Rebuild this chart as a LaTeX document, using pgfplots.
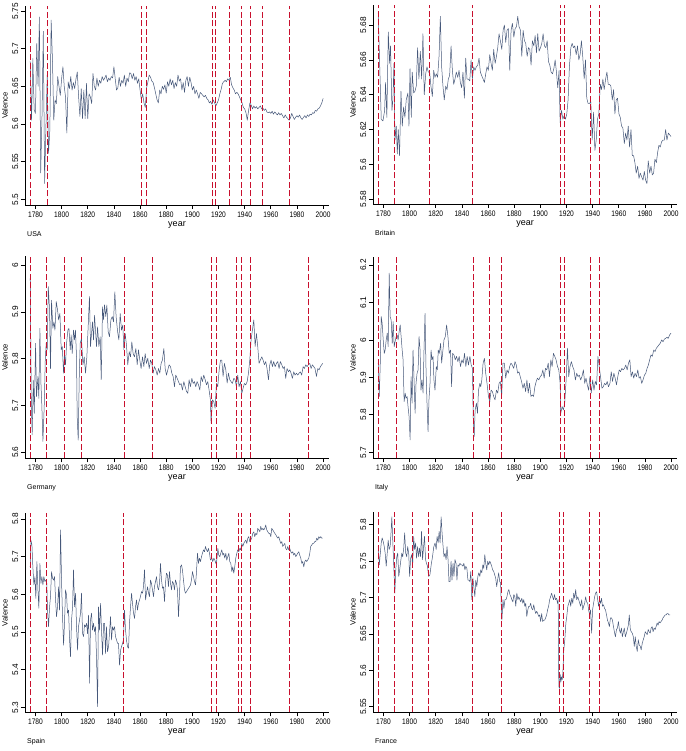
\documentclass[border=0pt]{standalone}
\usepackage{fontspec}
\setmainfont{Liberation Sans}[FakeStretch=0.83]
\newfontfamily\plainsans{Liberation Sans}
\usepackage{pgfplots}
\pgfplotsset{compat=1.18}
\definecolor{serie}{RGB}{70,88,122}
\definecolor{crim}{RGB}{200,16,46}
\pgfplotsset{
  panel/.style={
    scale only axis, width=304pt, xmin=1772, xmax=2004.5,
    axis lines*=left, axis line style={black, line width=0.8pt},
    tick align=outside, major tick length=4pt, tick style={black, line width=0.7pt},
    xtick={1780,1800,...,2000},
    xticklabel style={font=\fontsize{8}{9}\selectfont, /pgf/number format/1000 sep={}, inner sep=2.5pt},
    yticklabel style={font=\plainsans\fontsize{8.3}{9}\selectfont, rotate=90, anchor=south, inner sep=2.5pt},
    xlabel={year}, ylabel={Valence},
    every axis x label/.style={at={(axis description cs:0.5,0)}, anchor=center, yshift=-20pt, font=\plainsans\fontsize{9}{10}\selectfont},
    every axis y label/.style={at={(axis description cs:0,0.5)}, anchor=center, xshift=-20pt, rotate=90, font=\plainsans\fontsize{7.6}{9}\selectfont},
    /pgf/number format/assume math mode=true,
    clip mode=individual,
  },
  series/.style={color=serie, line width=0.5pt, mark=none, line join=round},
  vline/.style={color=crim, line width=0.85pt, dash pattern=on 6pt off 2.5pt, mark=none},
}
\newcommand{\vlines}[3]{\pgfplotsinvokeforeach{#3}{\addplot[vline] coordinates {(##1,#1) (##1,#2)};}}
\newcommand{\country}[1]{\node[anchor=base west, inner sep=0pt, font=\plainsans\fontsize{7}{8}\selectfont, xshift=2pt, yshift=-31.5pt] at (axis description cs:0,0) {#1};}
\begin{document}
\begin{tikzpicture}
\path[use as bounding box] (0,0) rectangle (685pt,751pt);
% ---------------- USA
\begin{axis}[panel, at={(25pt,546pt)}, anchor=south west, height=199pt,
  ymin=5.4925, ymax=5.7566, ytick={5.5,5.55,5.6,5.65,5.7,5.75}]
\addplot[series] coordinates {(1776,5.683)(1777,5.605)(1778,5.687)(1779,5.619)(1780,5.614)(1781,5.707)(1782,5.650)(1783,5.742)(1784,5.535)(1785,5.610)(1786,5.723)(1787,5.521)(1788,5.596)(1789,5.665)(1790,5.561)(1791,5.592)(1792,5.738)(1793,5.685)(1794,5.605)(1795,5.632)(1796,5.627)(1797,5.663)(1798,5.650)(1799,5.638)(1800,5.660)(1801,5.676)(1802,5.650)(1803,5.636)(1804,5.588)(1805,5.656)(1806,5.647)(1807,5.663)(1808,5.645)(1809,5.655)(1810,5.647)(1811,5.660)(1812,5.669)(1813,5.636)(1814,5.610)(1815,5.647)(1816,5.607)(1817,5.645)(1818,5.607)(1819,5.654)(1820,5.607)(1821,5.640)(1822,5.636)(1823,5.627)(1824,5.667)(1825,5.650)(1826,5.645)(1827,5.661)(1828,5.650)(1829,5.658)(1830,5.654)(1831,5.663)(1832,5.658)(1833,5.661)(1834,5.665)(1835,5.656)(1836,5.661)(1837,5.658)(1838,5.663)(1839,5.661)(1840,5.676)(1841,5.660)(1842,5.645)(1843,5.648)(1844,5.662)(1845,5.650)(1846,5.658)(1847,5.654)(1848,5.665)(1849,5.650)(1850,5.661)(1851,5.656)(1852,5.668)(1853,5.667)(1854,5.660)(1855,5.667)(1856,5.658)(1857,5.663)(1858,5.654)(1859,5.660)(1860,5.645)(1861,5.632)(1862,5.640)(1863,5.628)(1864,5.622)(1865,5.648)(1866,5.656)(1867,5.665)(1868,5.662)(1869,5.657)(1870,5.655)(1871,5.648)(1872,5.640)(1873,5.632)(1874,5.628)(1875,5.645)(1876,5.640)(1877,5.650)(1878,5.646)(1879,5.652)(1880,5.641)(1881,5.656)(1882,5.650)(1883,5.660)(1884,5.652)(1885,5.658)(1886,5.647)(1887,5.655)(1888,5.650)(1889,5.665)(1890,5.657)(1891,5.660)(1892,5.645)(1893,5.655)(1894,5.642)(1895,5.658)(1896,5.663)(1897,5.650)(1898,5.662)(1899,5.655)(1900,5.645)(1901,5.650)(1902,5.640)(1903,5.645)(1904,5.640)(1905,5.634)(1906,5.642)(1907,5.640)(1908,5.638)(1909,5.636)(1910,5.638)(1911,5.634)(1912,5.632)(1913,5.628)(1914,5.630)(1915,5.626)(1916,5.632)(1917,5.628)(1918,5.624)(1919,5.628)(1920,5.632)(1921,5.640)(1922,5.646)(1923,5.654)(1924,5.656)(1925,5.658)(1926,5.656)(1927,5.660)(1928,5.658)(1929,5.662)(1930,5.652)(1931,5.648)(1932,5.645)(1933,5.640)(1934,5.642)(1935,5.640)(1936,5.636)(1937,5.632)(1938,5.628)(1939,5.622)(1940,5.620)(1941,5.615)(1942,5.605)(1943,5.618)(1944,5.628)(1945,5.625)(1946,5.620)(1947,5.624)(1948,5.621)(1949,5.623)(1950,5.620)(1951,5.622)(1952,5.624)(1953,5.620)(1954,5.621)(1955,5.618)(1956,5.620)(1957,5.616)(1958,5.615)(1959,5.616)(1960,5.614)(1961,5.617)(1962,5.613)(1963,5.616)(1964,5.614)(1965,5.612)(1966,5.615)(1967,5.612)(1968,5.614)(1969,5.611)(1970,5.608)(1971,5.612)(1972,5.609)(1973,5.607)(1974,5.605)(1975,5.608)(1976,5.614)(1977,5.610)(1978,5.606)(1979,5.609)(1980,5.611)(1981,5.609)(1982,5.612)(1983,5.608)(1984,5.606)(1985,5.609)(1986,5.611)(1987,5.608)(1988,5.612)(1989,5.610)(1990,5.613)(1991,5.612)(1992,5.615)(1993,5.614)(1994,5.618)(1995,5.617)(1996,5.620)(1997,5.621)(1998,5.624)(1999,5.628)(2000,5.634)};
\vlines{5.4925}{5.7566}{1776,1789,1861,1865,1915,1918,1928.3,1937.7,1944.6,1953.3,1974.4}
\country{USA}
\end{axis}
% ---------------- Britain
\begin{axis}[panel, at={(373pt,547pt)}, anchor=south west, height=199pt,
  ymin=5.5773, ymax=5.6915, ytick={5.58,5.6,5.62,5.64,5.66,5.68}]
\addplot[series] coordinates {(1776,5.687)(1777,5.660)(1778.3,5.626)(1779.6,5.625)(1780.9,5.631)(1781.6,5.647)(1782.6,5.627)(1783.7,5.676)(1784.7,5.658)(1785.4,5.668)(1786.5,5.631)(1787.2,5.637)(1788,5.658)(1788.8,5.614)(1789.8,5.622)(1790.6,5.606)(1791.3,5.620)(1792.3,5.605)(1793.4,5.642)(1794.4,5.622)(1795.4,5.633)(1796.4,5.627)(1797.4,5.637)(1798.7,5.641)(1799.5,5.622)(1800.3,5.655)(1801.3,5.627)(1802,5.653)(1803.1,5.641)(1804.1,5.642)(1805.1,5.645)(1806.1,5.667)(1807.1,5.649)(1808.2,5.665)(1809.2,5.649)(1810.2,5.675)(1811.2,5.640)(1812.3,5.652)(1813.3,5.656)(1814.3,5.653)(1815.3,5.653)(1816.3,5.645)(1817.4,5.639)(1818.4,5.654)(1819.4,5.650)(1820.4,5.652)(1821.4,5.650)(1822.5,5.662)(1823.5,5.685)(1824.5,5.656)(1825.5,5.645)(1826.5,5.637)(1827.6,5.645)(1828.6,5.643)(1829.6,5.649)(1830.6,5.651)(1831.7,5.668)(1832.7,5.654)(1833.7,5.646)(1834.7,5.649)(1835.7,5.653)(1836.8,5.650)(1837.8,5.654)(1838.8,5.647)(1839.8,5.644)(1840.8,5.653)(1841.9,5.638)(1842.9,5.661)(1843.9,5.649)(1844.9,5.649)(1846,5.648)(1847,5.660)(1848,5.649)(1849,5.656)(1850,5.654)(1851,5.656)(1852.1,5.657)(1853.1,5.661)(1854.1,5.653)(1855.1,5.651)(1856.2,5.649)(1857.2,5.647)(1858.2,5.652)(1859.2,5.656)(1860.2,5.654)(1861.3,5.663)(1862.3,5.658)(1863.3,5.654)(1864.3,5.666)(1865.4,5.658)(1866.4,5.662)(1867.4,5.667)(1868.4,5.675)(1869.4,5.671)(1870.5,5.666)(1871.5,5.677)(1872.5,5.680)(1873.5,5.670)(1874.5,5.677)(1875.6,5.678)(1876.6,5.654)(1877.6,5.677)(1878.6,5.681)(1879.7,5.673)(1880.7,5.678)(1881.7,5.679)(1882.7,5.685)(1883.7,5.679)(1884.8,5.677)(1885.8,5.662)(1886.8,5.677)(1887.8,5.671)(1888.8,5.6695)(1889.9,5.662)(1890.9,5.667)(1891.9,5.666)(1892.9,5.657)(1893.9,5.671)(1895,5.668)(1896,5.674)(1897,5.664)(1898,5.675)(1899,5.665)(1900.1,5.667)(1901.1,5.6695)(1902.1,5.675)(1903.1,5.668)(1904.2,5.667)(1905.2,5.671)(1906.2,5.659)(1907.2,5.657)(1908.2,5.653)(1909.3,5.652)(1910.3,5.655)(1911.3,5.660)(1912.3,5.653)(1913.3,5.644)(1914.3,5.654)(1915.1,5.624)(1916.2,5.631)(1917.2,5.626)(1918.2,5.628)(1919.2,5.626)(1920.2,5.629)(1921.2,5.637)(1922.2,5.656)(1923.3,5.667)(1924.3,5.6695)(1925.3,5.667)(1926.3,5.668)(1927.4,5.663)(1928.4,5.668)(1929.4,5.660)(1930.4,5.663)(1931.4,5.671)(1932.4,5.662)(1933.5,5.649)(1934.5,5.660)(1935.5,5.638)(1936.5,5.635)(1937.6,5.635)(1938.6,5.636)(1939.6,5.614)(1940.7,5.630)(1941.7,5.608)(1942.7,5.614)(1943.7,5.626)(1944.7,5.629)(1945.8,5.646)(1946.8,5.643)(1947.8,5.649)(1948.8,5.643)(1949.9,5.649)(1950.9,5.653)(1951.9,5.646)(1952.9,5.646)(1953.9,5.645)(1955,5.637)(1956,5.643)(1957,5.629)(1958,5.637)(1959,5.638)(1960.1,5.629)(1961.1,5.627)(1962.1,5.622)(1963.1,5.621)(1964.2,5.612)(1965.2,5.618)(1966.2,5.614)(1967.2,5.622)(1968.2,5.610)(1969.3,5.620)(1970.3,5.605)(1971.3,5.605)(1972.3,5.601)(1973.3,5.595)(1974.4,5.599)(1975.4,5.592)(1976.4,5.595)(1977.4,5.593)(1978.5,5.591)(1979.5,5.596)(1980.5,5.591)(1981.5,5.589)(1982.5,5.602)(1983.6,5.595)(1984.6,5.599)(1985.6,5.594)(1986.6,5.595)(1987.6,5.603)(1988.7,5.601)(1989.7,5.607)(1990.7,5.611)(1991.7,5.610)(1992.7,5.613)(1993.8,5.614)(1994.8,5.614)(1995.8,5.620)(1996.8,5.614)(1997.9,5.618)(1998.9,5.617)(1999.9,5.616)};
\vlines{5.5773}{5.6915}{1776,1788.5,1814.8,1848,1915.1,1918.2,1938.1,1945}
\country{Britain}
\end{axis}
% ---------------- Germany
\begin{axis}[panel, at={(25pt,292.7pt)}, anchor=south west, height=202pt,
  ymin=5.587, ymax=6.019, ytick={5.6,5.7,5.8,5.9,6}]
\addplot[series] coordinates {(1776.0,5.972)(1776.8,5.712)(1777.5,5.637)(1778.3,5.754)(1779.1,5.683)(1780.1,5.833)(1780.8,5.719)(1781.9,5.762)(1782.6,5.715)(1783.4,5.865)(1784.2,5.747)(1784.9,5.698)(1785.7,5.623)(1786.7,5.698)(1787.5,5.797)(1788.2,5.833)(1789.0,5.819)(1789.8,5.954)(1790.8,5.904)(1791.5,5.779)(1792.3,5.925)(1793.3,5.865)(1794.1,5.879)(1794.9,5.861)(1795.9,5.922)(1796.9,5.904)(1797.7,5.883)(1798.7,5.897)(1799.7,5.819)(1800.5,5.826)(1801.5,5.769)(1802.2,5.808)(1803.0,5.787)(1803.8,5.833)(1804.8,5.861)(1805.6,5.865)(1806.6,5.819)(1807.3,5.851)(1808.1,5.811)(1809.1,5.861)(1809.9,5.840)(1810.6,5.861)(1811.4,5.804)(1811.9,5.676)(1812.7,5.626)(1813.5,5.762)(1814.2,5.833)(1815.2,5.843)(1816.3,5.787)(1817.3,5.804)(1818.3,5.769)(1819.3,5.804)(1820.3,5.868)(1821.3,5.933)(1822.1,5.826)(1822.9,5.854)(1823.6,5.879)(1824.4,5.840)(1825.2,5.893)(1825.9,5.861)(1826.7,5.826)(1827.5,5.868)(1828.5,5.826)(1829.5,5.847)(1830.3,5.755)(1831.3,5.911)(1832.1,5.883)(1832.8,5.915)(1833.8,5.890)(1834.6,5.915)(1835.6,5.858)(1836.6,5.847)(1837.7,5.883)(1838.7,5.890)(1839.7,5.879)(1840.7,5.943)(1841.7,5.890)(1842.8,5.858)(1843.8,5.840)(1844.8,5.897)(1845.8,5.861)(1846.8,5.872)(1847.6,5.819)(1848.6,5.854)(1849.6,5.829)(1850.6,5.787)(1851.7,5.815)(1852.7,5.804)(1853.7,5.836)(1854.7,5.811)(1855.7,5.804)(1856.8,5.822)(1857.8,5.787)(1858.8,5.819)(1859.8,5.797)(1860.8,5.779)(1861.9,5.804)(1862.9,5.783)(1863.9,5.811)(1864.9,5.790)(1865.9,5.801)(1867.0,5.779)(1868.0,5.797)(1869.0,5.790)(1870.0,5.769)(1871.0,5.783)(1872.1,5.776)(1873.1,5.765)(1874.1,5.779)(1875.1,5.769)(1876.1,5.790)(1877.1,5.797)(1878.2,5.822)(1879.2,5.779)(1880.2,5.765)(1881.2,5.776)(1882.2,5.787)(1883.3,5.783)(1884.3,5.769)(1885.3,5.762)(1886.3,5.740)(1887.3,5.765)(1888.4,5.758)(1889.4,5.751)(1890.4,5.744)(1891.4,5.747)(1892.4,5.733)(1893.5,5.751)(1894.5,5.740)(1895.5,5.730)(1896.5,5.726)(1897.5,5.755)(1898.5,5.740)(1899.6,5.758)(1900.6,5.747)(1901.6,5.751)(1902.6,5.740)(1903.6,5.751)(1904.7,5.744)(1905.7,5.733)(1906.7,5.762)(1907.7,5.751)(1908.7,5.765)(1909.8,5.755)(1910.8,5.744)(1911.8,5.751)(1912.8,5.733)(1913.8,5.712)(1914.3,5.662)(1915.4,5.712)(1916.4,5.708)(1917.4,5.694)(1918.4,5.747)(1919.4,5.740)(1920.5,5.776)(1921.5,5.797)(1922.5,5.797)(1923.5,5.762)(1924.5,5.790)(1925.6,5.776)(1926.6,5.748)(1927.6,5.769)(1928.6,5.755)(1929.6,5.751)(1930.6,5.747)(1931.7,5.758)(1932.7,5.755)(1933.7,5.740)(1934.7,5.765)(1935.7,5.740)(1936.8,5.751)(1937.8,5.726)(1938.8,5.737)(1939.8,5.747)(1940.8,5.744)(1941.9,5.751)(1942.9,5.769)(1943.9,5.797)(1944.9,5.840)(1945.9,5.861)(1947.0,5.883)(1948.0,5.826)(1949.0,5.854)(1950.0,5.826)(1951.0,5.790)(1952.0,5.797)(1953.1,5.804)(1954.1,5.797)(1955.1,5.787)(1956.1,5.794)(1957.1,5.779)(1958.2,5.755)(1959.2,5.787)(1960.2,5.797)(1961.2,5.783)(1962.2,5.794)(1963.3,5.783)(1964.3,5.790)(1965.3,5.794)(1966.3,5.779)(1967.3,5.794)(1968.4,5.787)(1969.4,5.779)(1970.4,5.783)(1971.4,5.758)(1972.4,5.779)(1973.5,5.772)(1974.5,5.776)(1975.5,5.769)(1976.5,5.758)(1977.5,5.772)(1978.5,5.765)(1979.6,5.769)(1980.6,5.765)(1981.6,5.769)(1982.6,5.772)(1983.6,5.765)(1984.7,5.783)(1985.7,5.779)(1986.7,5.787)(1987.7,5.783)(1988.7,5.787)(1989.8,5.790)(1990.8,5.779)(1991.8,5.787)(1992.8,5.783)(1993.8,5.779)(1994.9,5.762)(1995.9,5.779)(1996.9,5.776)(1997.9,5.783)(1998.9,5.787)(1999.7,5.790)};
\vlines{5.587}{6.019}{1776,1788.7,1802.5,1815,1847.8,1869.8,1914.9,1918.2,1934,1937.8,1944.7,1989}
\country{Germany}
\end{axis}
% ---------------- Italy
\begin{axis}[panel, at={(373pt,292.7pt)}, anchor=south west, height=201pt,
  ymin=5.684, ymax=6.2205, ytick={5.7,5.8,5.9,6,6.1,6.2}]
\addplot[series] coordinates {(1776.0,5.938)(1776.8,5.849)(1777.5,5.929)(1778.3,6.062)(1779.0,6.044)(1779.8,6.000)(1780.6,5.964)(1781.3,5.973)(1782.1,6.000)(1782.9,6.018)(1783.6,5.982)(1784.4,6.178)(1785.1,6.062)(1785.9,6.053)(1786.7,5.991)(1787.4,6.049)(1788.2,5.982)(1788.9,5.995)(1789.7,6.009)(1790.5,6.013)(1791.2,6.000)(1792.0,6.022)(1792.8,6.040)(1793.5,6.009)(1794.3,5.973)(1795.0,5.947)(1795.8,5.835)(1796.6,5.858)(1797.3,5.844)(1798.1,5.849)(1798.8,5.822)(1799.6,5.795)(1800.4,5.733)(1801.1,5.902)(1801.9,5.831)(1802.6,5.973)(1803.4,5.893)(1804.2,5.804)(1804.9,5.884)(1805.7,5.911)(1806.5,5.920)(1807.2,6.009)(1808.0,5.973)(1808.7,5.866)(1809.5,5.893)(1810.3,5.858)(1811.0,5.973)(1811.8,6.071)(1812.5,5.929)(1813.3,5.831)(1814.1,5.755)(1814.8,5.840)(1815.6,5.884)(1816.4,5.973)(1817.1,5.947)(1817.9,5.956)(1818.6,5.893)(1819.4,5.866)(1820.4,5.929)(1821.2,5.920)(1821.9,5.973)(1822.7,5.964)(1823.7,5.991)(1824.5,5.938)(1825.2,5.964)(1826.3,6.000)(1827.3,6.009)(1828.3,6.040)(1829.3,6.009)(1830.3,5.964)(1831.3,5.973)(1832.1,5.875)(1832.9,5.964)(1833.9,5.960)(1834.9,5.947)(1835.9,5.956)(1836.9,5.942)(1837.9,5.956)(1838.9,5.929)(1840.0,5.947)(1841.0,5.938)(1842.0,5.964)(1843.0,5.929)(1844.0,5.956)(1845.0,5.933)(1846.1,5.956)(1847.1,5.933)(1848.1,5.924)(1848.6,5.795)(1849.4,5.742)(1850.1,5.813)(1851.1,5.831)(1851.9,5.804)(1852.7,5.866)(1853.7,5.884)(1854.4,5.875)(1855.2,5.893)(1856.2,5.938)(1857.2,5.951)(1858.2,5.911)(1859.2,5.884)(1860.3,5.849)(1861.3,5.835)(1862.3,5.866)(1863.3,5.862)(1864.3,5.849)(1865.3,5.840)(1866.4,5.866)(1867.4,5.858)(1868.4,5.884)(1869.4,5.889)(1870.4,5.849)(1871.4,5.938)(1872.4,5.938)(1873.5,5.898)(1874.5,5.920)(1875.5,5.911)(1876.5,5.929)(1877.5,5.938)(1878.5,5.933)(1879.6,5.924)(1880.6,5.942)(1881.6,5.933)(1882.6,5.911)(1883.6,5.915)(1884.6,5.902)(1885.6,5.889)(1886.7,5.871)(1887.7,5.884)(1888.7,5.862)(1889.7,5.893)(1890.7,5.858)(1891.7,5.884)(1892.8,5.849)(1893.8,5.853)(1894.8,5.849)(1895.8,5.875)(1896.8,5.889)(1897.8,5.898)(1898.8,5.893)(1899.9,5.902)(1900.9,5.906)(1901.9,5.920)(1902.9,5.898)(1903.9,5.924)(1904.9,5.920)(1906.0,5.938)(1907.0,5.902)(1908.0,5.947)(1909.0,5.929)(1910.0,5.964)(1911.0,5.956)(1912.0,5.947)(1913.1,5.929)(1914.1,5.920)(1915.1,5.884)(1915.6,5.804)(1916.6,5.822)(1917.6,5.813)(1918.6,5.831)(1919.7,5.893)(1920.7,5.978)(1921.7,5.902)(1922.7,5.929)(1923.7,5.942)(1924.7,5.929)(1925.7,5.920)(1926.8,5.893)(1927.8,5.911)(1928.8,5.902)(1929.8,5.906)(1930.8,5.893)(1931.8,5.902)(1932.9,5.920)(1933.9,5.884)(1934.9,5.898)(1935.9,5.880)(1936.9,5.866)(1937.9,5.902)(1938.9,5.858)(1940.0,5.893)(1941.0,5.866)(1942.0,5.889)(1943.0,5.880)(1944.0,5.956)(1945.0,5.929)(1946.0,5.902)(1947.1,5.871)(1948.1,5.875)(1949.1,5.884)(1950.1,5.880)(1951.1,5.889)(1952.1,5.875)(1953.2,5.884)(1954.2,5.915)(1955.2,5.889)(1956.2,5.911)(1957.2,5.898)(1958.2,5.880)(1959.2,5.902)(1960.3,5.920)(1961.3,5.915)(1962.3,5.924)(1963.3,5.920)(1964.3,5.924)(1965.3,5.933)(1966.4,5.920)(1967.4,5.938)(1968.4,5.947)(1969.4,5.902)(1970.4,5.915)(1971.4,5.898)(1972.4,5.911)(1973.5,5.902)(1974.5,5.920)(1975.5,5.898)(1976.5,5.902)(1977.5,5.884)(1978.5,5.893)(1979.6,5.906)(1980.6,5.911)(1981.6,5.924)(1982.6,5.933)(1983.6,5.947)(1984.6,5.960)(1985.6,5.956)(1986.7,5.973)(1987.7,5.969)(1988.7,5.978)(1989.7,5.982)(1990.7,5.987)(1991.7,5.991)(1992.8,6.000)(1993.8,5.995)(1994.8,6.002)(1995.8,6.004)(1996.8,6.007)(1997.8,6.004)(1998.8,6.013)(1999.9,6.018)};
\vlines{5.684}{6.2205}{1776,1789.7,1848.6,1861.3,1870.4,1915.3,1918.4,1938.2,1945}
\country{Italy}
\end{axis}
% ---------------- Spain
\begin{axis}[panel, at={(25pt,38.7pt)}, anchor=south west, height=199pt,
  ymin=5.287, ymax=5.815, ytick={5.3,5.4,5.5,5.6,5.7,5.8}]
\addplot[series] coordinates {(1776.0,5.673)(1776.5,5.744)(1777.3,5.731)(1778.0,5.673)(1778.8,5.625)(1779.6,5.647)(1780.3,5.589)(1781.1,5.687)(1781.9,5.612)(1782.6,5.563)(1783.4,5.682)(1784.2,5.629)(1784.9,5.647)(1785.7,5.625)(1786.4,5.647)(1787.2,5.634)(1788.0,5.638)(1788.7,5.629)(1789.2,5.558)(1790.0,5.514)(1790.8,5.567)(1791.5,5.594)(1792.3,5.660)(1793.1,5.642)(1793.8,5.638)(1794.6,5.647)(1795.4,5.585)(1796.1,5.541)(1796.9,5.567)(1797.7,5.620)(1798.4,5.558)(1799.2,5.771)(1800.0,5.629)(1800.7,5.541)(1801.5,5.465)(1802.2,5.523)(1803.0,5.612)(1803.8,5.598)(1804.5,5.550)(1805.3,5.558)(1806.1,5.479)(1806.8,5.435)(1807.6,5.532)(1808.4,5.567)(1809.1,5.665)(1809.9,5.567)(1810.7,5.603)(1811.4,5.514)(1812.2,5.452)(1812.9,5.514)(1813.7,5.532)(1814.5,5.550)(1815.2,5.603)(1816.0,5.496)(1816.8,5.488)(1817.5,5.519)(1818.3,5.514)(1819.1,5.523)(1819.8,5.496)(1820.6,5.545)(1821.4,5.364)(1822.1,5.532)(1822.9,5.550)(1823.6,5.505)(1824.4,5.523)(1825.2,5.501)(1825.9,5.514)(1826.7,5.435)(1827.5,5.302)(1828.2,5.567)(1829.0,5.505)(1829.8,5.576)(1830.5,5.505)(1831.3,5.439)(1832.1,5.523)(1832.8,5.523)(1833.6,5.443)(1834.3,5.514)(1835.1,5.448)(1835.9,5.461)(1836.6,5.496)(1837.4,5.541)(1838.2,5.479)(1838.9,5.514)(1839.7,5.505)(1840.5,5.514)(1841.2,5.488)(1842.0,5.479)(1842.8,5.470)(1843.5,5.470)(1844.3,5.412)(1845.1,5.452)(1845.8,5.461)(1846.6,5.470)(1847.3,5.479)(1848.1,5.558)(1848.9,5.505)(1849.6,5.479)(1850.4,5.461)(1851.2,5.457)(1851.9,5.523)(1852.7,5.567)(1853.5,5.603)(1854.2,5.576)(1855.0,5.550)(1855.8,5.536)(1856.5,5.567)(1857.3,5.585)(1858.0,5.558)(1858.8,5.576)(1859.6,5.585)(1860.3,5.594)(1861.1,5.607)(1861.9,5.603)(1862.6,5.620)(1863.4,5.665)(1864.2,5.585)(1864.9,5.603)(1865.7,5.620)(1866.5,5.603)(1867.2,5.594)(1868.0,5.638)(1868.7,5.629)(1869.5,5.612)(1870.3,5.594)(1871.0,5.620)(1871.8,5.634)(1872.6,5.647)(1873.3,5.620)(1874.1,5.612)(1874.9,5.629)(1875.6,5.682)(1876.4,5.638)(1877.2,5.616)(1877.9,5.620)(1878.7,5.581)(1879.4,5.629)(1880.2,5.656)(1881.0,5.651)(1881.7,5.620)(1882.5,5.660)(1883.3,5.629)(1884.0,5.612)(1884.8,5.634)(1885.6,5.629)(1886.3,5.612)(1887.1,5.638)(1887.9,5.629)(1888.6,5.612)(1889.4,5.541)(1890.2,5.603)(1890.9,5.673)(1891.7,5.678)(1892.4,5.665)(1893.2,5.638)(1894.0,5.612)(1894.7,5.603)(1895.5,5.607)(1896.3,5.612)(1897.0,5.616)(1897.8,5.620)(1898.6,5.625)(1899.3,5.638)(1900.1,5.660)(1900.9,5.647)(1901.6,5.634)(1902.4,5.625)(1903.1,5.656)(1903.9,5.709)(1904.7,5.682)(1905.4,5.696)(1906.2,5.687)(1907.0,5.700)(1907.7,5.709)(1908.5,5.718)(1909.3,5.713)(1910.0,5.727)(1910.8,5.718)(1911.6,5.713)(1912.3,5.722)(1913.1,5.709)(1913.8,5.691)(1914.9,5.696)(1915.6,5.687)(1916.4,5.696)(1917.2,5.691)(1917.9,5.682)(1918.7,5.691)(1919.5,5.722)(1920.2,5.704)(1921.0,5.700)(1921.7,5.709)(1922.5,5.718)(1923.3,5.704)(1924.0,5.709)(1924.8,5.696)(1925.6,5.709)(1926.3,5.691)(1927.1,5.700)(1927.9,5.709)(1928.6,5.687)(1929.4,5.682)(1930.2,5.660)(1930.9,5.673)(1931.7,5.656)(1932.4,5.673)(1933.2,5.696)(1934.0,5.709)(1934.7,5.718)(1935.5,5.713)(1936.3,5.722)(1937.0,5.718)(1937.8,5.735)(1938.6,5.727)(1939.3,5.735)(1940.1,5.740)(1940.9,5.744)(1941.6,5.735)(1942.4,5.749)(1943.1,5.753)(1943.9,5.740)(1944.7,5.744)(1945.4,5.749)(1946.2,5.762)(1947.0,5.766)(1947.7,5.753)(1948.5,5.762)(1949.3,5.758)(1950.0,5.775)(1950.8,5.771)(1951.6,5.766)(1952.3,5.780)(1953.1,5.771)(1953.9,5.775)(1954.6,5.771)(1955.4,5.775)(1956.1,5.784)(1956.9,5.771)(1957.7,5.766)(1958.4,5.762)(1959.2,5.762)(1960.0,5.753)(1960.7,5.775)(1961.5,5.771)(1962.3,5.766)(1963.0,5.762)(1963.8,5.758)(1964.6,5.753)(1965.3,5.749)(1966.1,5.753)(1966.8,5.744)(1967.6,5.735)(1968.4,5.740)(1969.1,5.727)(1969.9,5.731)(1970.7,5.735)(1971.4,5.722)(1972.2,5.718)(1973.0,5.727)(1973.7,5.718)(1974.5,5.722)(1975.3,5.713)(1976.0,5.709)(1976.8,5.713)(1977.5,5.704)(1978.3,5.709)(1979.1,5.700)(1979.8,5.704)(1980.6,5.709)(1981.4,5.713)(1982.1,5.704)(1982.9,5.696)(1983.7,5.682)(1984.4,5.687)(1985.2,5.673)(1986.0,5.687)(1986.7,5.691)(1987.5,5.687)(1988.2,5.691)(1989.0,5.696)(1989.8,5.709)(1990.5,5.727)(1991.3,5.731)(1992.1,5.735)(1992.8,5.735)(1993.6,5.740)(1994.4,5.740)(1995.1,5.749)(1995.9,5.744)(1996.7,5.753)(1997.4,5.749)(1998.2,5.753)(1998.9,5.749)(1999.7,5.749)};
\vlines{5.287}{5.815}{1776,1788.7,1847.6,1914.9,1918.2,1935.5,1937.8,1944.7,1974.5}
\country{Spain}
\end{axis}
% ---------------- France
\begin{axis}[panel, at={(373pt,38.7pt)}, anchor=south west, height=200.6pt,
  ymin=5.5422, ymax=5.818, ytick={5.55,5.6,5.65,5.7,5.75,5.8}]
\addplot[series] coordinates {(1776.0,5.770)(1776.8,5.745)(1777.5,5.759)(1778.3,5.775)(1779.0,5.782)(1779.8,5.777)(1780.6,5.770)(1781.3,5.761)(1782.1,5.743)(1782.8,5.759)(1783.6,5.779)(1784.3,5.766)(1785.1,5.770)(1785.9,5.793)(1786.4,5.811)(1787.1,5.779)(1787.9,5.743)(1788.7,5.706)(1789.4,5.738)(1790.2,5.756)(1790.9,5.761)(1791.7,5.729)(1792.4,5.738)(1793.2,5.750)(1794.0,5.761)(1794.7,5.756)(1795.5,5.768)(1796.2,5.789)(1797.0,5.761)(1797.8,5.756)(1798.5,5.770)(1799.3,5.761)(1800.0,5.729)(1800.8,5.754)(1801.6,5.759)(1802.3,5.743)(1803.1,5.784)(1803.8,5.766)(1804.6,5.775)(1805.3,5.754)(1806.1,5.770)(1806.9,5.756)(1807.6,5.768)(1808.4,5.756)(1809.1,5.791)(1809.9,5.752)(1810.7,5.770)(1811.4,5.784)(1812.2,5.752)(1812.9,5.747)(1813.7,5.743)(1814.5,5.729)(1815.5,5.731)(1816.5,5.745)(1817.5,5.756)(1818.5,5.770)(1819.5,5.775)(1820.3,5.766)(1821.0,5.784)(1821.8,5.775)(1822.6,5.791)(1823.3,5.775)(1824.1,5.811)(1824.8,5.789)(1825.6,5.770)(1826.3,5.756)(1827.1,5.761)(1827.9,5.752)(1828.6,5.770)(1829.4,5.752)(1830.1,5.722)(1830.9,5.722)(1831.7,5.750)(1832.4,5.724)(1833.2,5.747)(1833.9,5.729)(1834.7,5.752)(1835.5,5.747)(1836.2,5.724)(1837.0,5.745)(1837.7,5.743)(1838.5,5.747)(1839.3,5.745)(1840.0,5.745)(1840.8,5.743)(1841.5,5.747)(1842.3,5.738)(1843.0,5.743)(1843.8,5.740)(1844.6,5.724)(1845.3,5.724)(1846.1,5.722)(1846.8,5.736)(1847.6,5.697)(1848.4,5.727)(1849.1,5.715)(1849.9,5.701)(1850.6,5.724)(1851.4,5.715)(1852.2,5.729)(1852.9,5.734)(1853.7,5.729)(1854.4,5.738)(1855.2,5.734)(1856.0,5.745)(1856.7,5.740)(1857.5,5.759)(1858.2,5.747)(1859.0,5.738)(1859.7,5.750)(1860.5,5.745)(1861.3,5.750)(1862.0,5.747)(1862.8,5.743)(1863.5,5.738)(1864.3,5.736)(1865.1,5.731)(1865.8,5.727)(1866.6,5.715)(1867.3,5.724)(1868.1,5.734)(1868.9,5.722)(1869.6,5.720)(1870.1,5.688)(1870.6,5.669)(1871.4,5.697)(1872.1,5.685)(1872.9,5.697)(1873.7,5.697)(1874.4,5.701)(1875.2,5.708)(1875.9,5.711)(1876.7,5.704)(1877.5,5.701)(1878.2,5.697)(1879.0,5.694)(1879.7,5.704)(1880.5,5.701)(1881.2,5.688)(1882.0,5.706)(1882.8,5.697)(1883.5,5.701)(1884.3,5.697)(1885.0,5.694)(1885.8,5.699)(1886.6,5.692)(1887.3,5.697)(1888.1,5.688)(1888.8,5.692)(1889.6,5.674)(1890.4,5.683)(1891.1,5.688)(1891.9,5.688)(1892.6,5.692)(1893.4,5.685)(1894.2,5.683)(1894.9,5.690)(1895.7,5.683)(1896.4,5.678)(1897.2,5.681)(1898.0,5.678)(1898.7,5.674)(1899.5,5.676)(1900.2,5.667)(1901.0,5.678)(1901.7,5.667)(1902.5,5.669)(1903.3,5.669)(1904.0,5.672)(1904.8,5.676)(1905.5,5.683)(1906.3,5.688)(1907.1,5.697)(1907.8,5.701)(1908.6,5.706)(1909.3,5.701)(1910.1,5.697)(1910.8,5.704)(1911.6,5.697)(1912.4,5.699)(1913.1,5.692)(1913.6,5.697)(1914.1,5.578)(1914.6,5.575)(1915.2,5.594)(1915.7,5.584)(1916.2,5.591)(1916.7,5.587)(1917.2,5.596)(1917.9,5.628)(1918.7,5.642)(1919.5,5.665)(1920.2,5.674)(1921.0,5.688)(1921.7,5.692)(1922.5,5.697)(1923.2,5.688)(1924.0,5.699)(1924.8,5.692)(1925.5,5.706)(1926.3,5.699)(1927.0,5.711)(1927.8,5.697)(1928.6,5.701)(1929.3,5.697)(1930.1,5.692)(1930.8,5.688)(1931.6,5.697)(1932.4,5.683)(1933.1,5.688)(1933.9,5.692)(1934.6,5.701)(1935.4,5.694)(1936.2,5.692)(1936.9,5.683)(1937.7,5.676)(1938.4,5.683)(1939.2,5.651)(1939.9,5.683)(1940.7,5.692)(1941.5,5.701)(1942.2,5.706)(1943.0,5.708)(1943.7,5.699)(1944.5,5.688)(1945.3,5.697)(1946.0,5.692)(1946.8,5.699)(1947.5,5.688)(1948.3,5.690)(1949.1,5.685)(1949.8,5.683)(1950.6,5.676)(1951.3,5.669)(1952.1,5.665)(1952.8,5.660)(1953.6,5.672)(1954.4,5.672)(1955.1,5.669)(1955.9,5.660)(1956.6,5.653)(1957.4,5.646)(1958.2,5.656)(1958.9,5.658)(1959.7,5.667)(1960.4,5.656)(1961.2,5.651)(1962.0,5.658)(1962.7,5.646)(1963.5,5.653)(1964.2,5.658)(1965.0,5.646)(1965.8,5.651)(1966.5,5.656)(1967.3,5.662)(1968.0,5.676)(1968.8,5.656)(1969.5,5.653)(1970.3,5.651)(1971.1,5.646)(1971.8,5.633)(1972.6,5.646)(1973.3,5.633)(1974.1,5.626)(1974.9,5.642)(1975.6,5.635)(1976.4,5.633)(1977.1,5.628)(1977.9,5.637)(1978.7,5.642)(1979.4,5.646)(1980.2,5.653)(1980.9,5.651)(1981.7,5.649)(1982.5,5.656)(1983.2,5.653)(1984.0,5.651)(1984.7,5.658)(1985.5,5.660)(1986.2,5.653)(1987.0,5.658)(1987.8,5.656)(1988.5,5.660)(1989.3,5.665)(1990.0,5.662)(1990.8,5.667)(1991.6,5.665)(1992.3,5.667)(1993.1,5.669)(1993.8,5.672)(1994.6,5.674)(1995.4,5.676)(1996.1,5.676)(1996.9,5.678)(1997.6,5.678)(1998.4,5.676)(1999.2,5.676)};
\vlines{5.5422}{5.818}{1776,1788.4,1802.3,1814.5,1847.9,1869.9,1914.6,1917.9,1937.4,1945}
\country{France}
\end{axis}
\end{tikzpicture}
\end{document}
